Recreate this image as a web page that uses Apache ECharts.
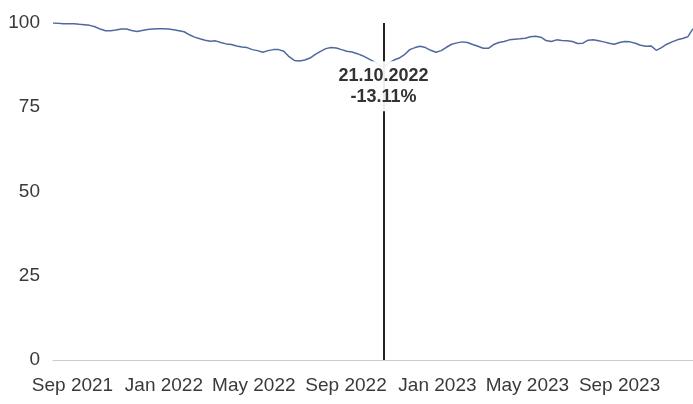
<!DOCTYPE html>
<html>
<head>
<meta charset="utf-8">
<script src="https://cdn.jsdelivr.net/npm/echarts@6/dist/echarts.min.js"></script>
<style>
html,body{margin:0;padding:0;background:#fff;}
#chart{width:693px;height:404px;}
</style>
</head>
<body>
<div id="chart"></div>
<script>
// Weekly observation dates (Fridays)
var dates = [
 '2021-08-06','2021-08-13','2021-08-20','2021-08-27','2021-09-03','2021-09-10','2021-09-17','2021-09-24',
 '2021-10-01','2021-10-08','2021-10-15','2021-10-22','2021-10-29','2021-11-05','2021-11-12','2021-11-19','2021-11-26',
 '2021-12-03','2021-12-10','2021-12-17','2021-12-24','2021-12-31',
 '2022-01-07','2022-01-14','2022-01-21','2022-01-28','2022-02-04','2022-02-11','2022-02-18','2022-02-25',
 '2022-03-04','2022-03-11','2022-03-18','2022-03-25','2022-04-01','2022-04-08','2022-04-15','2022-04-22','2022-04-29',
 '2022-05-06','2022-05-13','2022-05-20','2022-05-27','2022-06-03','2022-06-10','2022-06-17','2022-06-24',
 '2022-07-01','2022-07-08','2022-07-15','2022-07-22','2022-07-29','2022-08-05','2022-08-12','2022-08-19','2022-08-26',
 '2022-09-02','2022-09-09','2022-09-16','2022-09-23','2022-09-30','2022-10-07','2022-10-14','2022-10-21',
 '2022-10-28','2022-11-04','2022-11-11','2022-11-18','2022-11-25','2022-12-02','2022-12-09','2022-12-16','2022-12-23','2022-12-30',
 '2023-01-06','2023-01-13','2023-01-20','2023-01-27','2023-02-03','2023-02-10','2023-02-17','2023-02-24',
 '2023-03-03','2023-03-10','2023-03-17','2023-03-24','2023-03-31','2023-04-07','2023-04-14','2023-04-21','2023-04-28',
 '2023-05-05','2023-05-12','2023-05-19','2023-05-26','2023-06-02','2023-06-09','2023-06-16','2023-06-23','2023-06-30',
 '2023-07-07','2023-07-14','2023-07-21','2023-07-28','2023-08-04','2023-08-11','2023-08-18','2023-08-25',
 '2023-09-01','2023-09-08','2023-09-15','2023-09-22','2023-09-29','2023-10-06','2023-10-13','2023-10-20','2023-10-27',
 '2023-11-03','2023-11-10','2023-11-17','2023-11-24','2023-12-01','2023-12-08'
];
// Index values (start = 100)
var values = [
 100.0,99.9,99.8,99.8,99.8,99.6,99.5,99.3,98.9,98.2,97.7,97.7,97.9,98.2,98.2,97.8,97.5,97.8,98.1,98.2,98.3,98.3,
 98.2,98.0,97.7,97.4,96.5,95.8,95.3,94.9,94.6,94.7,94.2,93.8,93.6,93.2,92.9,92.7,92.1,91.8,91.3,91.8,92.1,92.1,
 91.6,90.0,88.9,88.7,89.0,89.6,90.7,91.6,92.4,92.7,92.6,92.1,91.6,91.4,90.9,90.3,89.5,88.7,87.8,86.89,
 88.1,89.0,89.6,90.6,92.1,92.7,93.1,92.7,91.9,91.3,
 91.8,92.8,93.7,94.1,94.4,94.2,93.6,93.1,92.5,92.5,93.6,94.2,94.5,95.0,95.2,95.3,95.5,95.9,96.1,95.8,94.8,94.5,
 95.0,94.8,94.7,94.5,93.9,94.0,94.9,95.0,94.7,94.4,94.0,93.7,94.2,94.5,94.4,94.0,93.4,93.1,93.2,91.9,92.7,93.7,
 94.4,95.0,95.4,95.9,98.3
];
var tickDates = ['2021-09-01','2022-01-01','2022-05-01','2022-09-01','2023-01-01','2023-05-01','2023-09-01'];
var markDate = '2022-10-21';
var markLabel = '21.10.2022';
var markChange = '-13.11%';

function ts(d) { var p = d.split('-'); return Date.UTC(+p[0], +p[1] - 1, +p[2]); }
var monthNames = ['Jan','Feb','Mar','Apr','May','Jun','Jul','Aug','Sep','Oct','Nov','Dec'];

var seriesData = dates.map(function (d, i) { return [ts(d), values[i]]; });
var markIdx = dates.indexOf(markDate);

var chart = echarts.init(document.getElementById('chart'), null, {renderer: 'canvas'});
chart.setOption({
  animation: false,
  textStyle: {fontFamily: '"Liberation Sans", Arial, sans-serif'},
  grid: {left: 53, right: 0, top: 23, bottom: 44, containLabel: false},
  xAxis: {
    type: 'value',
    min: ts(dates[0]),
    max: ts(dates[dates.length - 1]),
    axisLine: {show: true, lineStyle: {color: '#cccccc', width: 1}},
    axisTick: {show: false},
    splitLine: {show: false},
    axisLabel: {
      customValues: tickDates.map(ts),
      formatter: function (v) {
        var dt = new Date(v);
        return monthNames[dt.getUTCMonth()] + ' ' + dt.getUTCFullYear();
      },
      color: '#3a3a3a',
      fontSize: 19,
      margin: 16,
      hideOverlap: false
    }
  },
  yAxis: {
    type: 'value',
    min: 0,
    max: 100,
    interval: 25,
    axisLine: {show: false},
    axisTick: {show: false},
    splitLine: {show: false},
    axisLabel: {color: '#3a3a3a', fontSize: 19, margin: 13}
  },
  series: [{
    type: 'line',
    data: seriesData,
    showSymbol: false,
    symbol: 'none',
    lineStyle: {color: '#5068a0', width: 1.5},
    z: 2,
    markLine: {
      silent: true,
      symbol: ['none', 'none'],
      label: {show: false},
      lineStyle: {color: '#222', width: 2, type: 'solid'},
      data: [{xAxis: ts(markDate)}],
      z: 3
    },
    markPoint: {
      silent: true,
      symbol: 'circle',
      symbolSize: 0,
      data: [{coord: [ts(markDate), values[markIdx]]}],
      label: {
        show: true,
        position: 'inside',
        offset: [0, 19],
        formatter: markLabel + '\n' + markChange,
        color: '#333',
        fontWeight: 'bold',
        fontSize: 18,
        lineHeight: 21,
        backgroundColor: 'rgba(255,255,255,0.92)',
        padding: [4, 2, 4, 2]
      },
      z: 5
    }
  }]
});
</script>
</body>
</html>
